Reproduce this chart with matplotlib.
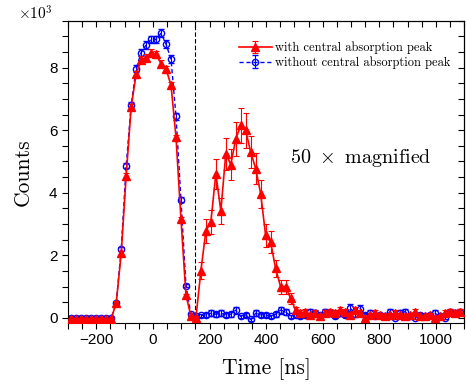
import matplotlib
matplotlib.use("Agg")
import matplotlib.pyplot as plt
from matplotlib.ticker import MultipleLocator

plt.rcParams['mathtext.fontset'] = 'cm'

# time bins [ns]
time_ns = [-288, -270.4, -252.8, -235.2, -217.6, -200, -182.4, -164.8, -147.2, -129.6,
           -112, -94.4, -76.8, -59.2, -41.6, -24, -6.4, 11.2, 28.8, 46.4,
           64, 81.6, 99.2, 116.8, 134.4, 152, 169.6, 187.2, 204.8, 222.4,
           240, 257.6, 275.2, 292.8, 310.4, 328, 345.6, 363.2, 380.8, 398.4,
           416, 433.6, 451.2, 468.8, 486.4, 504, 521.6, 539.2, 556.8, 574.4,
           592, 609.6, 627.2, 644.8, 662.4, 680, 697.6, 715.2, 732.8, 750.4,
           768, 785.6, 803.2, 820.8, 838.4, 856, 873.6, 891.2, 908.8, 926.4,
           944, 961.6, 979.2, 996.8, 1014.4, 1032, 1049.6, 1067.2, 1084.8]

# counts (x10^3), with central absorption peak
with_peak = [-0.02, -0.02, -0.02, -0.02, -0.02, -0.02, -0.02, -0.02, -0.02, 0.48,
             2.07, 4.55, 6.75, 7.79, 8.25, 8.32, 8.48, 8.43, 8.13, 7.95,
             7.44, 5.77, 3.15, 0.73, 0.05, 0.00, 1.51, 2.78, 3.07, 4.61,
             3.42, 5.25, 4.90, 5.72, 6.15, 5.99, 5.30, 4.77, 3.97, 2.64,
             2.43, 1.58, 1.00, 1.00, 0.63, 0.25, 0.15, 0.20, 0.10, 0.15,
             0.05, 0.15, 0.20, 0.15, 0.25, 0.20, 0.10, 0.25, 0.15, 0.00,
             0.10, 0.15, 0.10, 0.05, 0.10, 0.15, 0.10, 0.05, 0.10, 0.20,
             0.05, 0.05, 0.10, 0.00, 0.05, 0.15, 0.20, 0.15, 0.20]
with_peak_err = [0.02, 0.02, 0.02, 0.02, 0.02, 0.02, 0.02, 0.02, 0.02, 0.05,
                 0.07, 0.09, 0.10, 0.11, 0.11, 0.11, 0.11, 0.11, 0.11, 0.11,
                 0.10, 0.09, 0.07, 0.05, 0.03, 0.05, 0.27, 0.37, 0.39, 0.48,
                 0.41, 0.51, 0.49, 0.53, 0.55, 0.55, 0.51, 0.49, 0.45, 0.36,
                 0.35, 0.28, 0.22, 0.22, 0.18, 0.11, 0.09, 0.10, 0.07, 0.09,
                 0.05, 0.09, 0.10, 0.09, 0.11, 0.10, 0.07, 0.11, 0.09, 0.05,
                 0.07, 0.09, 0.07, 0.05, 0.07, 0.09, 0.07, 0.05, 0.07, 0.10,
                 0.05, 0.05, 0.07, 0.05, 0.05, 0.09, 0.10, 0.09, 0.10]

# counts (x10^3), without central absorption peak
without_peak = [0.00, 0.00, 0.00, 0.00, 0.00, 0.00, 0.00, 0.00, 0.00, 0.48,
                2.20, 4.87, 6.80, 7.97, 8.48, 8.73, 8.90, 8.90, 9.10, 8.75,
                8.27, 6.44, 3.78, 1.03, 0.12, 0.05, 0.08, 0.10, 0.15, 0.12,
                0.15, 0.10, 0.12, 0.25, 0.05, 0.10, -0.05, 0.15, 0.10, 0.10,
                0.05, 0.12, 0.25, 0.20, 0.05, 0.10, 0.05, 0.10, 0.20, 0.15,
                0.10, 0.20, 0.15, 0.05, 0.15, 0.10, 0.32, 0.12, 0.30, 0.10,
                0.15, 0.05, 0.10, 0.05, 0.20, 0.00, 0.15, 0.20, 0.05, 0.00,
                0.10, 0.05, 0.10, 0.15, 0.05, 0.00, 0.20, 0.15, 0.20]
without_peak_err = [0.02, 0.02, 0.02, 0.02, 0.02, 0.02, 0.02, 0.02, 0.02, 0.05,
                    0.07, 0.09, 0.11, 0.12, 0.12, 0.12, 0.12, 0.12, 0.12, 0.12,
                    0.12, 0.11, 0.08, 0.05, 0.05, 0.05, 0.06, 0.07, 0.09, 0.08,
                    0.09, 0.07, 0.08, 0.11, 0.05, 0.07, 0.05, 0.09, 0.07, 0.07,
                    0.05, 0.08, 0.11, 0.10, 0.05, 0.07, 0.05, 0.07, 0.10, 0.09,
                    0.07, 0.10, 0.09, 0.05, 0.09, 0.07, 0.13, 0.08, 0.12, 0.07,
                    0.09, 0.05, 0.07, 0.05, 0.10, 0.05, 0.09, 0.10, 0.05, 0.05,
                    0.07, 0.05, 0.07, 0.09, 0.05, 0.05, 0.10, 0.09, 0.10]

cut_time = 150
legend_labels = ["with central absorption peak", "without central absorption peak"]

fig = plt.figure(figsize=(4.66, 3.90), dpi=100)
ax = fig.add_axes([0.146, 0.172, 0.850, 0.775])

hb = ax.errorbar(time_ns, without_peak, yerr=without_peak_err, color='#0000ff',
                 ls=(0, (3, 2)), lw=1.0, marker='o', ms=4.5, mfc='none', mec='#0000ff',
                 mew=1.0, capsize=2.5, elinewidth=0.8, capthick=0.8,
                 label=legend_labels[1], zorder=2)
hr = ax.errorbar(time_ns, with_peak, yerr=with_peak_err, color='#ff0000',
                 ls='-', lw=1.2, marker='^', ms=5.5, mfc='#ff0000', mec='#ff0000',
                 capsize=2.5, elinewidth=0.8, capthick=0.8,
                 label=legend_labels[0], zorder=3)

ax.axvline(cut_time, color='black', ls=(0, (4, 2)), lw=0.8, zorder=1)

ax.set_xlim(-300, 1100)
ax.set_ylim(-0.16, 9.5)
ax.xaxis.set_major_locator(MultipleLocator(200))
ax.xaxis.set_minor_locator(MultipleLocator(50))
ax.yaxis.set_major_locator(MultipleLocator(2))
ax.yaxis.set_minor_locator(MultipleLocator(0.5))

ax.tick_params(which='both', direction='out', top=False, right=False)
ax.tick_params(which='major', length=4, width=0.8, labelsize=11)
ax.tick_params(which='minor', length=4, width=0.8)
for lab in ax.get_xticklabels() + ax.get_yticklabels():
    lab.set_family('Liberation Sans')

# inward ticks on top/right
axt = ax.secondary_xaxis('top')
axt.xaxis.set_major_locator(MultipleLocator(200))
axt.xaxis.set_minor_locator(MultipleLocator(50))
axt.tick_params(which='both', direction='in', length=4, width=0.8, labeltop=False)
axr = ax.secondary_yaxis('right')
axr.yaxis.set_major_locator(MultipleLocator(2))
axr.yaxis.set_minor_locator(MultipleLocator(0.5))
axr.tick_params(which='both', direction='in', length=4, width=0.8, labelright=False)

ax.set_xlabel('Time [ns]', fontsize=15.5, family='cmr10', labelpad=8)
ax.set_ylabel('Counts', fontsize=15.5, family='cmr10', labelpad=12)

fig.text(0.038, 0.965, r'$\times 10^3$', fontsize=11, ha='left', va='center')

ax.text(0.56, 0.545, r'$50\ \times\ \mathrm{magnified}$', transform=ax.transAxes,
        fontsize=14.5, ha='left', va='center')

leg = ax.legend(handles=[hr, hb], labels=legend_labels, loc='upper right',
                bbox_to_anchor=(0.985, 0.955), frameon=False,
                prop={'family': 'cmr10', 'size': 9}, handlelength=2.6,
                labelspacing=0.15, handletextpad=0.3, borderaxespad=0.2)

fig.savefig('out.png', dpi=100)
